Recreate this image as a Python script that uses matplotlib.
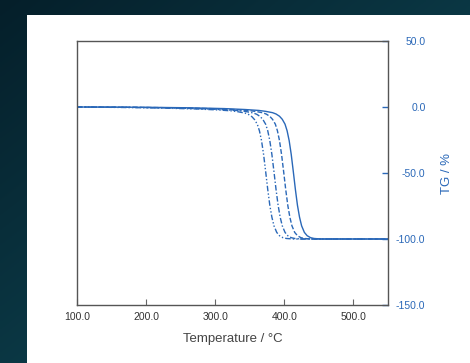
import numpy as np
import matplotlib
matplotlib.use("Agg")
import matplotlib.pyplot as plt
from matplotlib.patches import Rectangle

# ---- data ----
temp_solid = [100, 163, 213, 263, 313, 343, 363, 373, 383, 388, 393, 397, 401, 404, 407, 410,
              413, 416, 419, 422, 425, 429, 433, 438, 443, 453, 550]
tg_solid = [0, -0.1, -0.3, -0.6, -1.2, -1.9, -2.6, -3.3, -4.3, -5.3, -7.0, -9.3, -13.0, -18.0,
            -25.5, -36.0, -49.0, -62.5, -74.5, -83.5, -90.0, -95.0, -97.5, -99.0, -99.6, -100, -100]

temp_dashed = [100, 149, 199, 249, 299, 329, 349, 359, 369, 374, 379, 383, 387, 390, 393, 396,
               399, 402, 405, 408, 411, 415, 419, 424, 429, 439, 550]
tg_dashed = [0, -0.1, -0.3, -0.7, -1.3, -2.0, -2.7, -3.4, -4.4, -5.4, -7.1, -9.4, -13.0, -18.0,
             -25.5, -36.0, -49.0, -62.5, -74.5, -83.5, -90.0, -95.0, -97.5, -99.0, -99.6, -100, -100]

temp_dashdot = [100, 135, 185, 235, 285, 315, 335, 345, 355, 360, 365, 369, 373, 376, 379, 382,
                385, 388, 391, 394, 397, 401, 405, 410, 415, 425, 550]
tg_dashdot = [0, -0.1, -0.3, -0.7, -1.4, -2.1, -2.8, -3.5, -4.5, -5.5, -7.2, -9.5, -13.1, -18.0,
              -25.5, -36.0, -49.0, -62.5, -74.5, -83.5, -90.0, -95.0, -97.5, -99.0, -99.6, -100, -100]

temp_dashdotdot = [100, 123, 173, 223, 273, 303, 323, 333, 343, 348, 353, 357, 361, 364, 367, 370,
                   373, 376, 379, 382, 385, 389, 393, 398, 403, 413, 550]
tg_dashdotdot = [0, -0.1, -0.4, -0.8, -1.5, -2.2, -2.9, -3.6, -4.6, -5.6, -7.3, -9.6, -13.2, -18.1,
                 -25.5, -36.0, -49.0, -62.5, -74.5, -83.5, -90.0, -95.0, -97.5, -99.0, -99.6, -100, -100]

x_ticks = [100, 200, 300, 400, 500]
y_ticks = [50, 0, -50, -100, -150]

BLUE = "#2a68b8"
plt.rcParams['font.family'] = ['Liberation Sans', 'DejaVu Sans']

fig = plt.figure(figsize=(4.7, 3.63), dpi=100)

# background gradient
bg = fig.add_axes([0, 0, 1, 1], zorder=-10)
gx = np.linspace(0, 1, 200)
gy = np.linspace(0, 1, 200)
GX, GY = np.meshgrid(gx, gy)
c1 = np.array([0x05, 0x1f, 0x2a]) / 255.0
c2 = np.array([0x0f, 0x4a, 0x58]) / 255.0
t = np.clip(0.55 * GY + 0.55 * GX, 0, 1)[..., None]
img = c1 * (1 - t) + c2 * t
bg.imshow(img, origin='upper', extent=[0, 1, 0, 1], aspect='auto')
bg.set_xlim(0, 1)
bg.set_ylim(0, 1)
bg.axis('off')

fig.patches.append(Rectangle((27 / 470, 0), 1 - 27 / 470, 1 - 15 / 363,
                             transform=fig.transFigure, facecolor='white',
                             edgecolor='none', zorder=-5))

ax = fig.add_axes([77 / 470, 1 - 305 / 363, (388 - 77) / 470, (305 - 41) / 363])
ax.set_facecolor('white')

lw = 1.0
ax.plot(temp_solid, tg_solid, color=BLUE, lw=lw, linestyle='-')
ax.plot(temp_dashed, tg_dashed, color=BLUE, lw=lw, linestyle=(0, (3.5, 1.5)))
ax.plot(temp_dashdot, tg_dashdot, color=BLUE, lw=lw, linestyle=(0, (4, 1.5, 1, 1.5)))
ax.plot(temp_dashdotdot, tg_dashdotdot, color=BLUE, lw=lw,
        linestyle=(0, (4, 1.5, 1, 1.5, 1, 1.5)))

ax.set_xlim(100, 550)
ax.set_ylim(-150, 50)

for s in ax.spines.values():
    s.set_color('#555555')
    s.set_linewidth(1.0)

ax.set_xticks(x_ticks)
ax.set_xticklabels([f"{v:.1f}" for v in x_ticks])
ax.tick_params(axis='x', direction='in', length=4, color='#666666',
               labelsize=7.5, labelcolor='#333333', pad=5, top=False)

ax.yaxis.tick_right()
ax.yaxis.set_label_position('right')
ax.set_yticks(y_ticks)
ax.set_yticklabels([f"{v:.1f}" for v in y_ticks])
ax.tick_params(axis='y', direction='in', length=4, color=BLUE, width=1.0,
               labelsize=7.5, labelcolor=BLUE, pad=27, left=False, right=True)
for lab in ax.get_yticklabels():
    lab.set_horizontalalignment('right')

ax.set_xlabel("Temperature / °C", fontsize=9.5, color='#444444', labelpad=8)
ax.set_ylabel("TG / %", fontsize=9.5, color=BLUE, labelpad=11)

fig.savefig("out.png", dpi=100)
